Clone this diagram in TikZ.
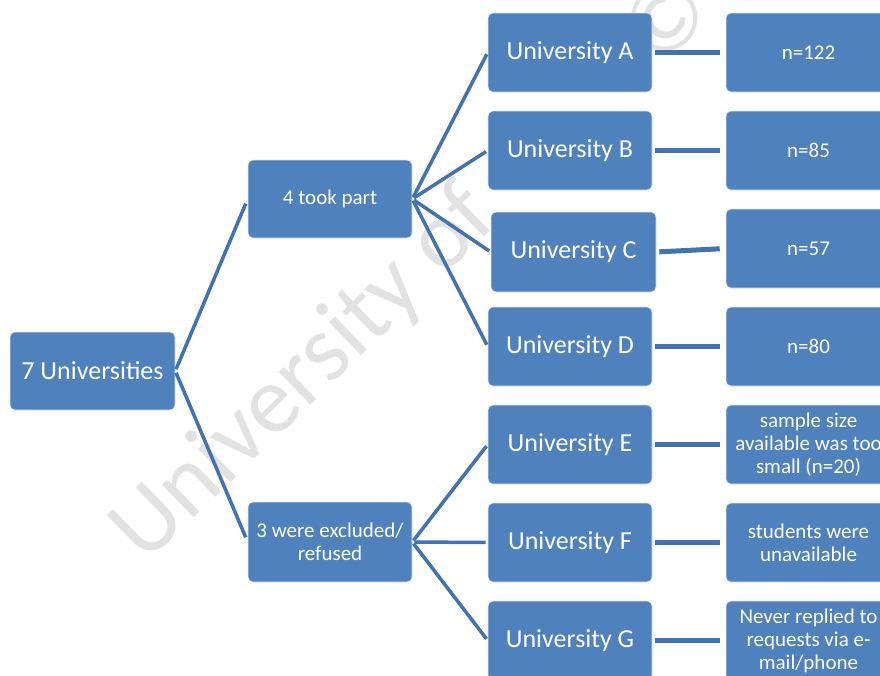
\documentclass[tikz,border=0pt]{standalone}
\usepackage{fontspec}
\setmainfont{Carlito}
\usepackage{tikz}
\usetikzlibrary{positioning, calc}
\usepackage{xcolor}

\definecolor{boxblue}{RGB}{79,129,189}
\definecolor{linkblue}{RGB}{66,114,176}
\definecolor{markgray}{RGB}{226,226,226}

\begin{document}
\begin{tikzpicture}[x=1pt, y=-1pt,
    box/.style={draw=white!80!boxblue, line width=0.6pt, fill=boxblue, rounded corners=5pt, text=white, align=center, inner sep=0pt, minimum width=164pt, minimum height=79pt},
    unibox/.style={box, font=\fontsize{26}{30}\selectfont},
    smallbox/.style={box, font=\fontsize{21}{23}\selectfont},
    link/.style={draw=linkblue, line width=3.5pt},
    stub/.style={draw=linkblue, line width=5pt, shorten <=3pt, shorten >=6pt}]

                \useasboundingbox (0,0) rectangle (880,675);

                % watermark
                \node[anchor=base west, rotate=44, text=markgray, inner sep=0pt, font=\fontsize{96}{96}\selectfont] (mark) at (145,565) {University of\hspace{2.3em}©};

                % root
                \node[unibox, minimum width=165pt, minimum height=78pt] (seven) at (92.5,371) {7 Universities};

                % split
                \node[smallbox, minimum height=78pt] (tookpart) at (330,199) {4 took part};
                \node[smallbox, minimum height=80pt] (excluded) at (330,542) {3 were excluded/\\refused};

                % universities
                \node[unibox] (uniA) at (570,52.5) {University A};
                \node[unibox] (uniB) at (570,150.5) {University B};
                \node[unibox, minimum width=165pt, minimum height=80pt] (uniC) at (573.5,252) {University C};
                \node[unibox] (uniD) at (570,346.5) {University D};
                \node[unibox] (uniE) at (570,444.5) {University E};
                \node[unibox] (uniF) at (570,542.5) {University F};
                \node[unibox] (uniG) at (570,640.5) {University G};

                % results
                \node[smallbox, minimum width=165pt] (resA) at (808.5,52.5) {n=122};
                \node[smallbox, minimum width=165pt] (resB) at (808.5,150.5) {n=85};
                \node[smallbox, minimum width=165pt] (resC) at (808.5,248.5) {n=57};
                \node[smallbox, minimum width=165pt] (resD) at (808.5,346.5) {n=80};
                \node[smallbox, minimum width=165pt] (resE) at (808.5,444.5) {sample size\\available was too\\small (n=20)};
                \node[smallbox, minimum width=165pt] (resF) at (808.5,542.5) {students were\\unavailable};
                \node[smallbox, minimum width=165pt] (resG) at (808.5,640.5) {Never replied to\\requests via e-\\mail/phone};

                % fan from root
                \draw[link, shorten <=2pt, shorten >=5pt] (seven.east) -- (tookpart.west);
                \draw[link, shorten <=2pt, shorten >=5pt] (seven.east) -- (excluded.west);

                % fan from 4 took part
                \draw[link, shorten <=2pt, shorten >=2pt] (tookpart.east) -- (uniA.west);
                \draw[link, shorten <=2pt, shorten >=2pt] (tookpart.east) -- (uniB.west);
                \draw[link, shorten <=2pt, shorten >=2pt] (tookpart.east) -- (uniC.west);
                \draw[link, shorten <=2pt, shorten >=2pt] (tookpart.east) -- (uniD.west);

                % fan from excluded
                \draw[link, shorten <=2pt, shorten >=2pt] (excluded.east) -- (uniE.west);
                \draw[link, shorten <=2pt, shorten >=2pt] (excluded.east) -- (uniF.west);
                \draw[link, shorten <=2pt, shorten >=2pt] (excluded.east) -- (uniG.west);

                % stubs to results
                \draw[stub] (uniA.east) -- (resA.west);
                \draw[stub] (uniB.east) -- (resB.west);
                \draw[stub] (uniC.east) -- (resC.west);
                \draw[stub] (uniD.east) -- (resD.west);
                \draw[stub] (uniE.east) -- (resE.west);
                \draw[stub] (uniF.east) -- (resF.west);
                \draw[stub] (uniG.east) -- (resG.west);

            \end{tikzpicture}
\end{document}
